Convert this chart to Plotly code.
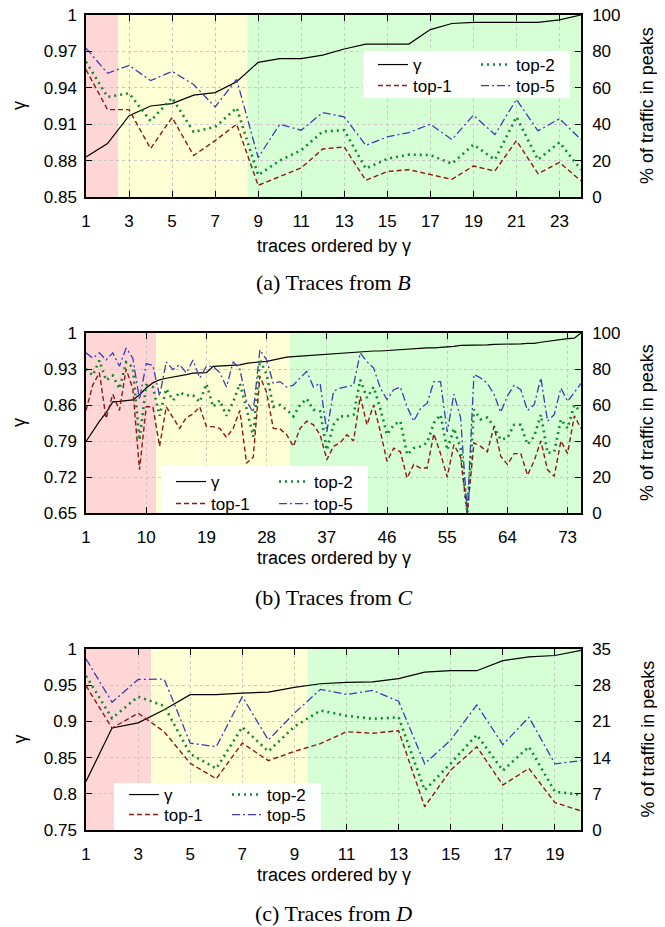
import plotly.graph_objects as go

# The page body has an 8px default margin; the figure starts 8px in and fills the window.
OFF = 8
W, H = 665 - OFF, 927 - OFF

# ---------------- data ----------------
# Panel (a): traces from B
a_x = list(range(1, 25))
a_gamma = [0.883, 0.894, 0.917, 0.925, 0.927, 0.934, 0.936, 0.945, 0.961, 0.964, 0.964, 0.967,
           0.972, 0.976, 0.976, 0.976, 0.988, 0.993, 0.994, 0.994, 0.994, 0.994, 0.996, 1.0]
a_top1 = [70, 48, 48, 26.6, 43.7, 22.8, 31, 40, 6.4, 11, 16, 26.4, 27.5, 9.2, 14, 15, 12.5, 9.7,
          17, 14.3, 31, 12.8, 19, 8.8]
a_top2 = [74.3, 55, 57, 41.8, 54.5, 35.8, 38.5, 49, 12, 20, 25.7, 36, 36.7, 15.6, 21, 23.3, 23,
          18.3, 28.8, 20.5, 44, 20.5, 30, 15]
a_top5 = [81.8, 68, 72.3, 64, 69, 61.8, 49.5, 64.6, 21.6, 40, 36.7, 46.4, 44, 28.4, 33, 35.4, 40,
          31.6, 45, 34.3, 53.6, 36.3, 43, 31.6]
a_zones = [1, 2.5, 8.5, 24]

# Panel (b): traces from C
b_x = list(range(1, 76))
b_gamma = [0.789, 0.809, 0.828, 0.845, 0.866, 0.867, 0.868, 0.870, 0.880, 0.893, 0.903, 0.909,
           0.912, 0.914, 0.917, 0.919, 0.922, 0.923, 0.923, 0.935, 0.936, 0.936, 0.937, 0.938,
           0.941, 0.943, 0.944, 0.945, 0.948, 0.951, 0.953, 0.954, 0.955, 0.956, 0.957, 0.958,
           0.959, 0.960, 0.961, 0.962, 0.963, 0.964, 0.964, 0.965, 0.965, 0.966, 0.966, 0.967,
           0.968, 0.969, 0.970, 0.971, 0.971, 0.972, 0.972, 0.974, 0.976, 0.976, 0.977, 0.977,
           0.977, 0.978, 0.978, 0.979, 0.979, 0.979, 0.980, 0.980, 0.982, 0.984, 0.986, 0.988,
           0.989, 0.990, 1.0]
b_top1 = [57, 71, 78, 52.5, 66, 57, 80, 69, 24, 59, 59, 37, 59, 53, 47, 53, 55, 59, 48, 48, 47,
          42, 47, 57, 27.6, 31, 76, 67, 47, 46.7, 43.5, 37, 47, 51, 49, 43.5, 29.6, 37, 39, 43.5,
          40, 64.8, 49, 60, 45.4, 28.7, 36, 34, 19.4, 27, 25, 25, 44, 33, 20, 38, 31, 0, 39, 37,
          34, 48, 31.5, 27, 33, 33, 21, 29, 40, 24, 20.4, 40, 33, 54, 47]
b_top2 = [80, 76.4, 84.7, 73.7, 76.4, 69, 83.8, 81, 40.5, 71, 70, 54, 69, 62.6, 67, 65.4, 65.4,
          61.7, 71.8, 59, 62.6, 54, 61.7, 71.8, 58, 42.4, 85, 77, 59, 60, 57.4, 53.7, 60, 63.5,
          57.4, 56.5, 35, 49, 53.7, 53.7, 54.6, 74, 64, 70, 58, 43.5, 49, 51, 32.4, 36, 37, 39,
          50, 54.6, 35, 47, 36, 0, 57.4, 52, 53, 48, 40.7, 41.7, 49, 49, 38, 42.6, 54.6, 33.3,
          34, 52, 47, 60, 56]
b_top5 = [89, 86, 89, 85, 89, 81.5, 91.7, 86, 63, 83, 82, 65, 84, 79.6, 82.4, 77.8, 85, 75, 81.5,
          81.5, 78, 70, 84, 80, 62, 56, 90.7, 85, 72, 73, 70, 71, 75, 78.7, 70, 72, 45, 67.6,
          69.4, 70, 71, 89, 84, 80.5, 69.4, 63, 68.5, 70, 59, 51, 58, 61, 73, 73, 45, 66, 53, 0,
          77, 75, 72, 66, 56, 65, 71, 68.5, 57, 60, 75, 51, 54.6, 69.4, 62, 67, 72]
b_zones = [1, 11.5, 31.5, 75]

# Panel (c): traces from D
c_x = list(range(1, 21))
c_gamma = [0.817, 0.891, 0.898, 0.916, 0.937, 0.937, 0.939, 0.9405, 0.947, 0.952, 0.954, 0.9545,
           0.959, 0.968, 0.970, 0.970, 0.984, 0.989, 0.991, 0.998]
c_top1 = [27.9, 19.7, 22.6, 19, 12.9, 9.9, 16.8, 13.4, 15.2, 16.7, 19, 18.7, 19.2, 4.5, 11.6,
          16.1, 8.7, 11.9, 5.3, 3.7]
c_top2 = [29.8, 21.6, 25.8, 24.0, 14.7, 11.9, 19.9, 15.2, 20, 23.1, 22.1, 21.5, 21.8, 7.7, 12.9,
          18.4, 11.5, 16.1, 7.4, 6.8]
c_top5 = [33.1, 24.7, 29.1, 29.2, 16.8, 16.1, 25.8, 17.4, 22.6, 27.2, 26.2, 27, 24.9, 12.8, 17.4,
          24.2, 16.5, 21.8, 12.8, 13.4]
c_zones = [1, 3.5, 9.5, 20]

# tick labels
a_xticks = list(range(1, 24, 2))
b_xticks = list(range(1, 74, 9))
c_xticks = list(range(1, 20, 2))
a_gticks = ["0.85", "0.88", "0.91", "0.94", "0.97", "1"]
b_gticks = ["0.65", "0.72", "0.79", "0.86", "0.93", "1"]
c_gticks = ["0.75", "0.8", "0.85", "0.9", "0.95", "1"]
a_pticks = [0, 20, 40, 60, 80, 100]
b_pticks = [0, 20, 40, 60, 80, 100]
c_pticks = [0, 7, 14, 21, 28, 35]

captions = ["(a) Traces from <i>B</i>", "(b) Traces from <i>C</i>", "(c) Traces from <i>D</i>"]
legend_rows = [["γ", "top-2"], ["top-1", "top-5"]]

# ---------------- style / layout ----------------
FONT = "Liberation Sans"
SERIF = "Liberation Serif"
zone_colors = ["#ffd6d6", "#ffffd6", "#d6ffd6"]
line_styles = {
    "γ": dict(color="black", width=1.2, dash="solid"),
    "top-1": dict(color="#8b1a10", width=1.4, dash="5px,3px"),
    "top-2": dict(color="#108a30", width=2.6, dash="2px,4px"),
    "top-5": dict(color="#3c3cb4", width=1.3, dash="8px,3px,2px,3px"),
}

# positions in reference-page pixels
PL, PR = 86, 581
panel_tops = [15, 333, 649]
panel_bots = [197, 513, 830]
legend_boxes = [(363, 51), (161, 466), (114, 783)]  # left, top
legend_row_centers = [(63, 84), (480, 502), (793, 813)]
caption_y = [282, 597, 913]
xtitle_y = [246, 558, 875]


def fx(p):
    return (p - OFF) / W


def fy(p):
    return 1 - (p - OFF) / H


panels = [
    (a_x, a_gamma, a_top1, a_top2, a_top5, a_zones, a_xticks, a_gticks, a_pticks),
    (b_x, b_gamma, b_top1, b_top2, b_top5, b_zones, b_xticks, b_gticks, b_pticks),
    (c_x, c_gamma, c_top1, c_top2, c_top5, c_zones, c_xticks, c_gticks, c_pticks),
]

fig = go.Figure()
layout = dict(
    width=W, height=H, autosize=False,
    margin=dict(l=0, r=0, t=0, b=0),
    paper_bgcolor="white", plot_bgcolor="white",
    font=dict(family=FONT, size=17, color="black"),
    showlegend=True,
)
shapes = []
annotations = []

for i, (xs, gam, t1, t2, t5, zones, xt, gt, pt) in enumerate(panels):
    xa = "x" if i == 0 else f"x{i + 1}"
    yl = "y" if i == 0 else f"y{2 * i + 1}"
    yr = f"y{2 * i + 2}"
    xkey = "xaxis" if i == 0 else f"xaxis{i + 1}"
    ylkey = "yaxis" if i == 0 else f"yaxis{2 * i + 1}"
    yrkey = f"yaxis{2 * i + 2}"
    top, bot = panel_tops[i], panel_bots[i]
    dom_y = [fy(bot), fy(top)]
    gvals = [float(v) for v in gt]
    axcommon = dict(
        showline=True, linecolor="black", linewidth=1.5,
        ticks="inside", ticklen=6, tickwidth=1.2, tickcolor="black",
        tickfont=dict(family=FONT, size=17, color="black"),
        zeroline=False, automargin=False, ticklabeloverflow="allow",
    )
    layout[xkey] = dict(
        domain=[fx(PL), fx(PR)], anchor=yl, range=[xs[0], xs[-1]],
        tickvals=xt, ticktext=[str(v) for v in xt],
        showgrid=True, gridcolor="#c8c8c8", griddash="dot", gridwidth=1,
        mirror="ticks", ticklabelstandoff=8, **axcommon,
    )
    layout[ylkey] = dict(
        domain=dom_y, anchor=xa, range=[gvals[0], gvals[-1]],
        tickvals=gvals, ticktext=gt,
        showgrid=True, gridcolor="#c8c8c8", griddash="dot", gridwidth=1,
        mirror=True, ticklabelstandoff=4, **axcommon,
    )
    layout[yrkey] = dict(
        overlaying=yl, side="right", anchor=xa, range=[pt[0], pt[-1]],
        tickvals=pt, ticktext=[str(v) for v in pt],
        showgrid=False, ticklabelstandoff=6, **axcommon,
    )

    # background zones
    for k in range(3):
        shapes.append(dict(
            type="rect", xref=xa, yref=f"{yl} domain",
            x0=zones[k], x1=zones[k + 1], y0=0, y1=1,
            fillcolor=zone_colors[k], line=dict(width=0), layer="below",
        ))

    # legend box (white)
    bl, bt = legend_boxes[i]
    shapes.append(dict(
        type="rect", xref="paper", yref="paper",
        x0=fx(bl), x1=fx(bl + 207), y0=fy(min(bt + 47, bot)), y1=fy(bt),
        fillcolor="white", line=dict(width=0), layer="above",
    ))

    # one horizontal legend per legend row (two columns)
    row_legends = []
    for r in range(2):
        idx = 2 * i + r + 1
        lk = "legend" if idx == 1 else f"legend{idx}"
        row_legends.append(lk)
        layout[lk] = dict(
            x=fx(bl + 10), y=fy(legend_row_centers[i][r] - 16), xanchor="left", yanchor="top",
            bgcolor="rgba(0,0,0,0)", borderwidth=0,
            font=dict(family=FONT, size=17, color="black"),
            orientation="h", entrywidth=58, entrywidthmode="pixels", itemwidth=30,
        )

    leg_of = {}
    for r, row in enumerate(legend_rows):
        for name in row:
            leg_of[name] = row_legends[r]

    data = {"γ": (gam, yl), "top-1": (t1, yr), "top-2": (t2, yr), "top-5": (t5, yr)}
    for name in ["γ", "top-2", "top-1", "top-5"]:
        vals, yax = data[name]
        fig.add_trace(go.Scatter(
            x=xs, y=vals, mode="lines", name=name, line=line_styles[name],
            xaxis=xa, yaxis=yax, legend=leg_of[name], cliponaxis=True,
        ))

    # axis titles and caption
    cy = (top + bot) / 2
    annotations.append(dict(
        text="γ", xref="paper", yref="paper", x=fx(19), y=fy(cy), textangle=-90,
        showarrow=False, xanchor="center", yanchor="middle",
        font=dict(family=FONT, size=18, color="black"),
    ))
    annotations.append(dict(
        text="% of traffic in peaks", xref="paper", yref="paper", x=fx(647), y=fy(cy),
        textangle=-90, showarrow=False, xanchor="center", yanchor="middle",
        font=dict(family=FONT, size=18, color="black"),
    ))
    annotations.append(dict(
        text="traces ordered by γ", xref="paper", yref="paper", x=fx((PL + PR) / 2),
        y=fy(xtitle_y[i]), showarrow=False, xanchor="center", yanchor="middle",
        font=dict(family=FONT, size=18, color="black"),
    ))
    annotations.append(dict(
        text=captions[i], xref="paper", yref="paper", x=fx((PL + PR) / 2),
        y=fy(caption_y[i]), showarrow=False, xanchor="center", yanchor="middle",
        font=dict(family=SERIF, size=22, color="black"),
    ))

layout["shapes"] = shapes
layout["annotations"] = annotations
fig.update_layout(**layout)
fig.write_html("out.html")
